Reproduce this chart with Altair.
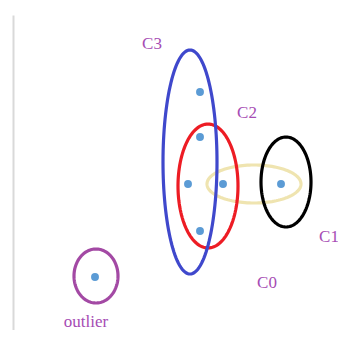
import altair as alt
import pandas as pd

# Data units: x to the right, y upward (arbitrary schematic units)
pt_x = [200, 200, 188, 223, 281, 200, 95]
pt_y = [246, 201, 154, 154, 154, 107, 61]

ell_name = ["C0", "outlier", "C1", "C2", "C3"]
ell_cx = [254, 96, 286, 208, 190]
ell_cy = [154, 62, 156, 152, 176]
ell_rx = [47, 22, 25, 30, 27]
ell_ry = [19, 27, 45, 62, 112]
ell_color = ["#EFE4B0", "#A349A4", "#000000", "#ED1C24", "#3F48CC"]

lab_text = ["C3", "C2", "C1", "C0", "outlier"]
lab_x = [152, 247, 329, 267, 86]
lab_y = [289, 220, 96, 50, 11]

points = pd.DataFrame({"x": pt_x, "y": pt_y})
ells = pd.DataFrame({"name": ell_name, "cx": ell_cx, "cy": ell_cy,
                     "rx": ell_rx, "ry": ell_ry})
labels = pd.DataFrame({"t": lab_text, "x": lab_x, "y": lab_y})

W, H = 325, 315
xs = alt.Scale(domain=[13, 13 + W], nice=False, zero=False)
ys = alt.Scale(domain=[8, 8 + H], nice=False, zero=False)

ell_chart = alt.Chart(ells).transform_calculate(
    t="sequence(0, 2 * PI + 0.02, PI / 64)"
).transform_flatten(["t"]).transform_calculate(
    ex="datum.cx + datum.rx * cos(datum.t)",
    ey="datum.cy + datum.ry * sin(datum.t)",
).mark_line(strokeWidth=3.2).encode(
    x=alt.X("ex:Q", scale=xs, axis=None),
    y=alt.Y("ey:Q", scale=ys,
            axis=alt.Axis(domain=True, domainColor="#D9D9D9", domainWidth=2,
                          ticks=False, labels=False, grid=False, title=None)),
    color=alt.Color("name:N", scale=alt.Scale(domain=ell_name, range=ell_color),
                    legend=None, sort=ell_name),
    detail="name:N",
    order="t:Q",
)

pt_chart = alt.Chart(points).mark_circle(size=62, opacity=1, color="#5B9BD5").encode(
    x=alt.X("x:Q", scale=xs), y=alt.Y("y:Q", scale=ys)
)

lab_chart = alt.Chart(labels).mark_text(
    font="Liberation Serif", fontSize=17, color="#A64CB4", align="center",
    baseline="alphabetic"
).encode(x=alt.X("x:Q", scale=xs), y=alt.Y("y:Q", scale=ys), text="t:N")

chart = alt.layer(ell_chart, pt_chart, lab_chart).properties(
    width=W, height=H, autosize=alt.AutoSizeParams(type="none"),
    padding={"left": 5, "top": 7, "right": 0, "bottom": 0},
).configure_view(stroke=None)

chart.save("out.html", embed_options={"renderer": "svg", "actions": False})
